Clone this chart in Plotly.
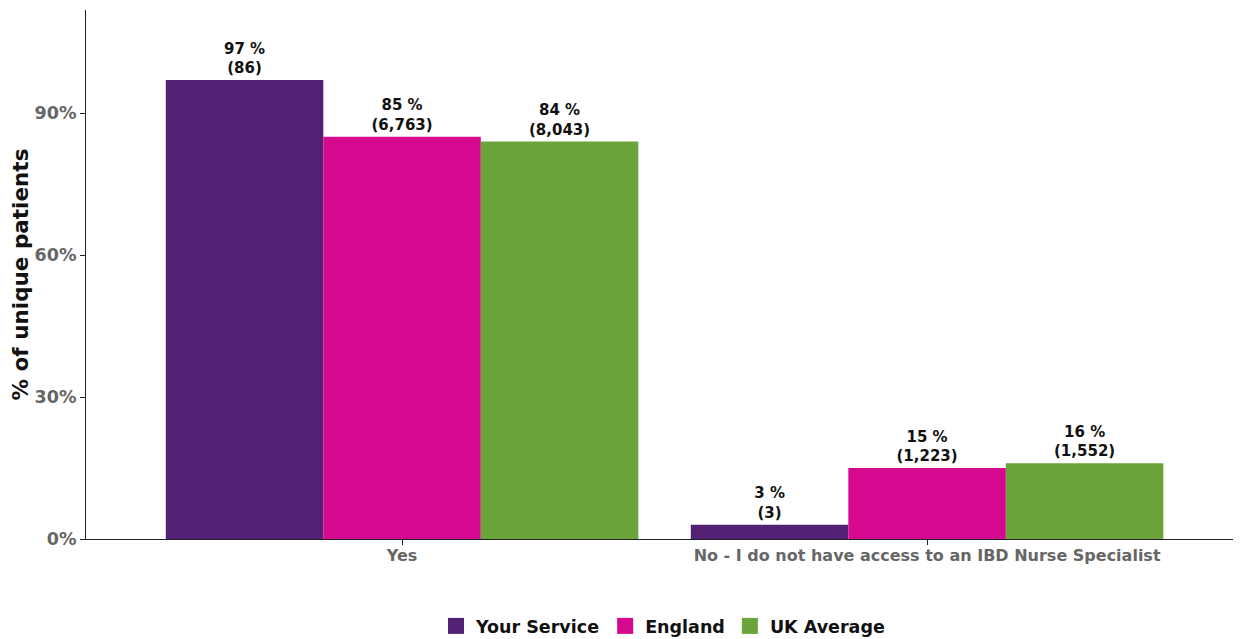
import plotly.graph_objects as go

categories = ["Yes", "No - I do not have access to an IBD Nurse Specialist"]
series_names = ["Your Service", "England", "UK Average"]
pct_your = [97, 3]
pct_england = [85, 15]
pct_uk = [84, 16]
n_your = [86, 3]
n_england = [6763, 1223]
n_uk = [8043, 1552]
colors = ["#522173", "#D4098F", "#6BA43A"]

FONT = "DejaVu Sans"

fig = go.Figure()
for name, pcts, ns, col in zip(series_names, [pct_your, pct_england, pct_uk],
                               [n_your, n_england, n_uk], colors):
    fig.add_trace(go.Bar(
        x=categories, y=pcts, name=name, marker_color=col, marker_line_width=0,
        text=[f"<b>{p} %<br>({n:,})</b>" for p, n in zip(pcts, ns)],
        textposition="outside", cliponaxis=False, showlegend=False,
        textfont=dict(family=FONT, size=15, color="#111111"),
    ))
# legend entries (larger square swatches)
for name, col in zip(series_names, colors):
    fig.add_trace(go.Scatter(
        x=[None], y=[None], mode="markers", name=f"<b>{name}</b>",
        marker=dict(symbol="square", size=16, color=col),
    ))

fig.update_layout(
    width=1233, height=631,
    margin=dict(l=78, r=1, t=2, b=100, autoexpand=False),
    plot_bgcolor="white", paper_bgcolor="white",
    barmode="group", bargap=0.1, bargroupgap=0,
    font=dict(family=FONT),
    showlegend=True,
    legend=dict(orientation="h", x=0.5, xanchor="center", y=-0.1645, yanchor="middle",
                font=dict(family=FONT, size=17.5, color="#111111"),
                itemsizing="trace", traceorder="normal", tracegroupgap=0),
    xaxis=dict(range=[-0.602, 1.596], showline=True, linecolor="#222222", linewidth=1,
               ticks="outside", ticklen=5, tickcolor="#222222", ticklabelstandoff=-3,
               tickfont=dict(family=FONT, size=16, color="#666666", weight="bold"),
               showgrid=False, automargin=False),
    yaxis=dict(range=[0, 111.8], tickvals=[0, 30, 60, 90], ticktext=["0%", "30%", "60%", "90%"],
               showline=True, linecolor="#222222", linewidth=1,
               ticks="outside", ticklen=5, tickcolor="#222222",
               tickfont=dict(family=FONT, size=17.5, color="#666666", weight="bold"),
               showgrid=False, zeroline=False, automargin=False,
               title=dict(text="<b>% of unique patients</b>", font=dict(family=FONT, size=21.5, color="#111111"),
                          standoff=3)),
)

fig.write_html("out.html")
